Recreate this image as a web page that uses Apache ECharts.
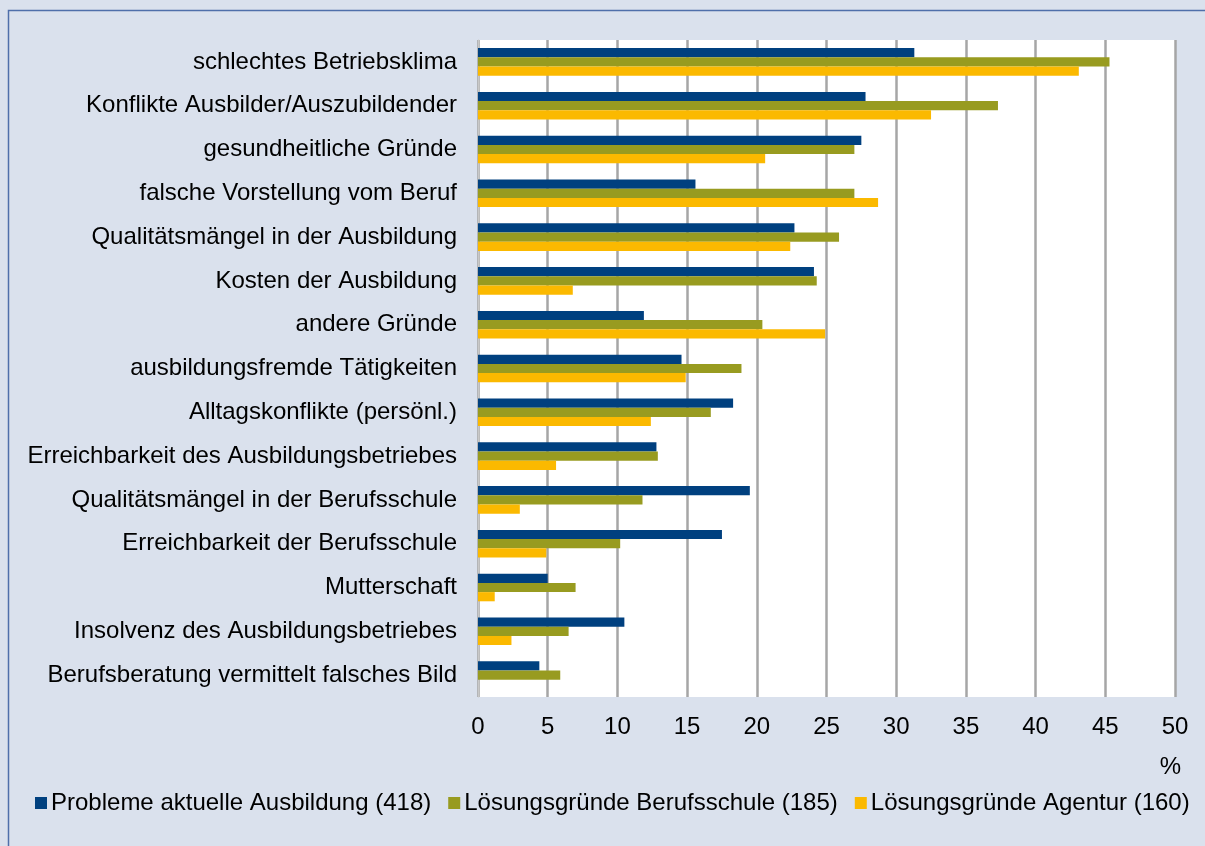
<!DOCTYPE html>
<html>
<head>
<meta charset="utf-8">
<script src="https://cdn.jsdelivr.net/npm/echarts@6/dist/echarts.min.js"></script>
<style>
  html, body { margin: 0; padding: 0; background: #DAE1ED; }
  #chart { width: 1205px; height: 846px; }
</style>
</head>
<body>
<div id="chart"></div>
<script>
// Abbruchgründe, Anteile in %
const categories = [
  'schlechtes Betriebsklima',
  'Konflikte Ausbilder/Auszubildender',
  'gesundheitliche Gründe',
  'falsche Vorstellung vom Beruf',
  'Qualitätsmängel in der Ausbildung',
  'Kosten der Ausbildung',
  'andere Gründe',
  'ausbildungsfremde Tätigkeiten',
  'Alltagskonflikte (persönl.)',
  'Erreichbarkeit des Ausbildungsbetriebes',
  'Qualitätsmängel in der Berufsschule',
  'Erreichbarkeit der Berufsschule',
  'Mutterschaft',
  'Insolvenz des Ausbildungsbetriebes',
  'Berufsberatung vermittelt falsches Bild'
];
const seriesNames = [
  'Probleme aktuelle Ausbildung (418)',
  'Lösungsgründe Berufsschule (185)',
  'Lösungsgründe Agentur (160)'
];
const problemeAusbildung = [31.3, 27.8, 27.5, 15.6, 22.7, 24.1, 11.9, 14.6, 18.3, 12.8, 19.5, 17.5, 5.0, 10.5, 4.4];
const loesungBerufsschule = [45.3, 37.3, 27.0, 27.0, 25.9, 24.3, 20.4, 18.9, 16.7, 12.9, 11.8, 10.2, 7.0, 6.5, 5.9];
const loesungAgentur = [43.1, 32.5, 20.6, 28.7, 22.4, 6.8, 24.9, 14.9, 12.4, 5.6, 3.0, 4.9, 1.2, 2.4, 0];
const xTicks = { min: 0, max: 50, interval: 5 };

const colors = ['#00407F', '#989B20', '#FBB900'];
const font = 'Liberation Sans, Arial, sans-serif';

let myChart = echarts.init(document.getElementById('chart'));

myChart.setOption({
  backgroundColor: '#DAE1ED',
  animation: false,
  color: colors,
  textStyle: { fontFamily: font },
  title: {
    text: '%',
    right: 19,
    top: 750,
    textStyle: { fontSize: 24, fontWeight: 'normal', color: '#000', fontFamily: font }
  },
  graphic: [{
    type: 'rect',
    shape: { x: 8.5, y: 10.5, width: 1210, height: 850 },
    style: { fill: 'none', stroke: '#4F6FAA', lineWidth: 1.5 },
    silent: true
  }],
  legend: {
    left: 30,
    top: 786,
    itemWidth: 12,
    itemHeight: 12,
    itemGap: 17,
    icon: 'rect',
    textStyle: { fontSize: 24, color: '#000', padding: [0, 0, 0, -1] },
    data: seriesNames
  },
  grid: {
    left: 478,
    top: 40,
    width: 697,
    height: 657,
    show: true,
    backgroundColor: '#fff',
    borderWidth: 0,
    containLabel: false
  },
  xAxis: {
    type: 'value',
    min: xTicks.min,
    max: xTicks.max,
    interval: xTicks.interval,
    axisLine: { show: false },
    axisTick: { show: false },
    axisLabel: { fontSize: 24, color: '#000', margin: 18 },
    splitLine: { show: true, lineStyle: { color: '#A6A6A6', width: 2.5 } }
  },
  yAxis: {
    type: 'category',
    inverse: true,
    data: categories,
    axisLine: { show: true, lineStyle: { color: '#C8C8C8', width: 1 } },
    axisTick: { show: false },
    axisLabel: { fontSize: 24, color: '#000', margin: 21 }
  },
  series: [
    { name: seriesNames[0], type: 'bar', data: problemeAusbildung, barGap: '0%', barCategoryGap: '37%' },
    { name: seriesNames[1], type: 'bar', data: loesungBerufsschule, barGap: '0%', barCategoryGap: '37%' },
    { name: seriesNames[2], type: 'bar', data: loesungAgentur, barGap: '0%', barCategoryGap: '37%' }
  ]
});
</script>
</body>
</html>
